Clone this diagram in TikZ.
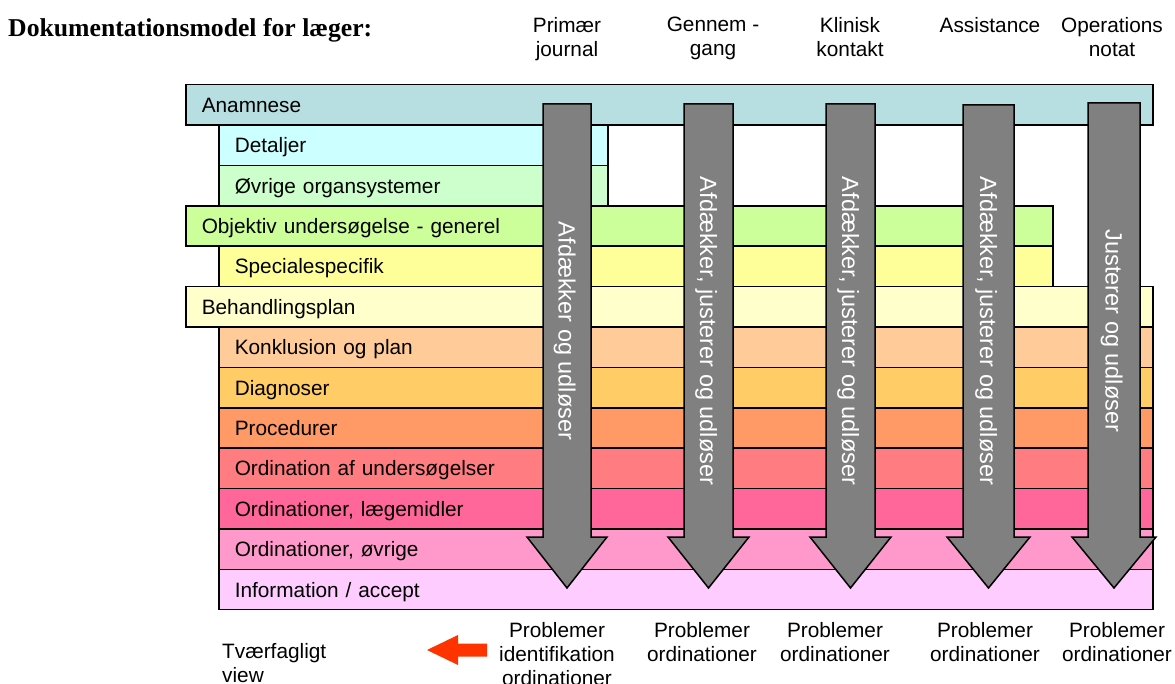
\documentclass[tikz,border=0pt]{standalone}
\usepackage{fontspec}
\setmainfont{Liberation Sans}
\newfontfamily\titleserif{Liberation Serif}

% row fills
\definecolor{anamC}{HTML}{B7DEE1}
\definecolor{detC}{HTML}{CCFFFF}
\definecolor{ovrC}{HTML}{CCFFCC}
\definecolor{objC}{HTML}{CCFF99}
\definecolor{speC}{HTML}{FFFF99}
\definecolor{behC}{HTML}{FFFFCC}
\definecolor{konC}{HTML}{FFCC99}
\definecolor{diaC}{HTML}{FFCC66}
\definecolor{proC}{HTML}{FF9966}
\definecolor{ordC}{HTML}{FF7C80}
\definecolor{lmC}{HTML}{FF6699}
\definecolor{ovC}{HTML}{FF99CC}
\definecolor{infC}{HTML}{FFCCFF}
\definecolor{arrowC}{HTML}{808080}
\definecolor{viewC}{HTML}{FF3300}

\newcommand\labelfont{\fontsize{20.8}{24}\selectfont}
\newcommand\arrowfont{\fontsize{23.5}{27}\selectfont}

% vertical block arrow with its rotated label:
% name, centre x, shaft half width, head half width, top y, label
\newcommand\flowarrow[6]{%
  \draw[arrowbody] (#2-#3,#5) -- (#2+#3,#5) -- (#2+#3,537) -- (#2+#4,537)
    -- (#2,588) -- (#2-#4,537) -- (#2-#3,537) -- cycle;
  \node[arrowtext] (#1) at (#2,331) {#6};
}

\begin{document}
\begin{tikzpicture}[x=1pt,y=-1pt,
  rowbox/.style={draw=black, line width=1.5pt, anchor=north west,
    minimum height=40.38pt, inner xsep=16pt, inner ysep=0pt,
    text width=#1, align=left, text height=15pt, text depth=0pt,
    font=\labelfont},
  arrowbody/.style={draw=black, line width=1.5pt, fill=arrowC, line join=miter},
  arrowtext/.style={rotate=-90, text=white, font=\arrowfont,
    text height=17pt, text depth=0pt, inner sep=0pt},
  header/.style={anchor=north, align=center, font=\labelfont, inner sep=0pt},
  footer/.style={anchor=north, align=center, font=\labelfont, inner sep=0pt},
]
\useasboundingbox (0,0) rectangle (1175,684);

% title
\node[anchor=base west, inner sep=0pt, font=\titleserif\bfseries\fontsize{25.7}{30}\selectfont]
  (title) at (8,37) {Dokumentationsmodel for læger:};

% column headers
\node[header] (hPrim) at (567,17) {Primær\\journal};
\node[header] (hGen)  at (713,17) {Gennem -\\gang};
\node[header] (hKlin) at (850,17) {Klinisk\\kontakt};
\node[header] (hAss)  at (990,17) {Assistance};
\node[header] (hOp)   at (1112,17) {Operations\\notat};

% documentation sections
\node[rowbox=935, fill=anamC] (anamnese) at (185,84) {Anamnese};
\node[rowbox=357, fill=detC]  (detaljer) at (218,124.4) {Detaljer};
\node[rowbox=357, fill=ovrC]  (organ)    at (218,164.8) {Øvrige organsystemer};
\node[rowbox=835, fill=objC]  (objektiv) at (185,205.1) {Objektiv undersøgelse - generel};
\node[rowbox=802, fill=speC]  (special)  at (218,245.5) {Specialespecifik};
\node[rowbox=935, fill=behC]  (behandl)  at (185,285.9) {Behandlingsplan};
\node[rowbox=902, fill=konC]  (konkl)    at (218,326.3) {Konklusion og plan};
\node[rowbox=902, fill=diaC]  (diagn)    at (218,366.7) {Diagnoser};
\node[rowbox=902, fill=proC]  (proced)   at (218,407.0) {Procedurer};
\node[rowbox=902, fill=ordC]  (ordus)    at (218,447.4) {Ordination af undersøgelser};
\node[rowbox=902, fill=lmC]   (ordlm)    at (218,487.8) {Ordinationer, lægemidler};
\node[rowbox=902, fill=ovC]   (ordov)    at (218,528.2) {Ordinationer, øvrige};
\node[rowbox=902, fill=infC]  (info)     at (218,568.6) {Information / accept};

% workflow arrows
\flowarrow{aPrim}{567}{24}{40}{104}{Afdækker og udløser}
\flowarrow{aGen}{708.5}{24.5}{40.5}{104}{Afdækker, justerer og udløser}
\flowarrow{aKlin}{850.5}{24.5}{40.5}{104}{Afdækker, justerer og udløser}
\flowarrow{aAss}{988.5}{25.5}{41.5}{105}{Afdækker, justerer og udløser}
\flowarrow{aOp}{1114}{26}{42}{103}{Justerer og udløser}

% outcomes
\node[footer] (fPrim) at (557,622) {Problemer\\identifikation\\ordinationer};
\node[footer] (fGen)  at (702,622) {Problemer\\ordinationer};
\node[footer] (fKlin) at (835,622) {Problemer\\ordinationer};
\node[footer] (fAss)  at (985,622) {Problemer\\ordinationer};
\node[footer] (fOp)   at (1117,622) {Problemer\\ordinationer};

% cross-disciplinary view
\node[anchor=north west, align=left, font=\labelfont, inner sep=0pt]
  (tvaer) at (222,643) {Tværfagligt\\view};
\fill[viewC] (427,650) -- (458,635) -- (458,643.5) -- (487,643.5)
  -- (487,656.5) -- (458,656.5) -- (458,665) -- cycle;
\end{tikzpicture}
\end{document}
